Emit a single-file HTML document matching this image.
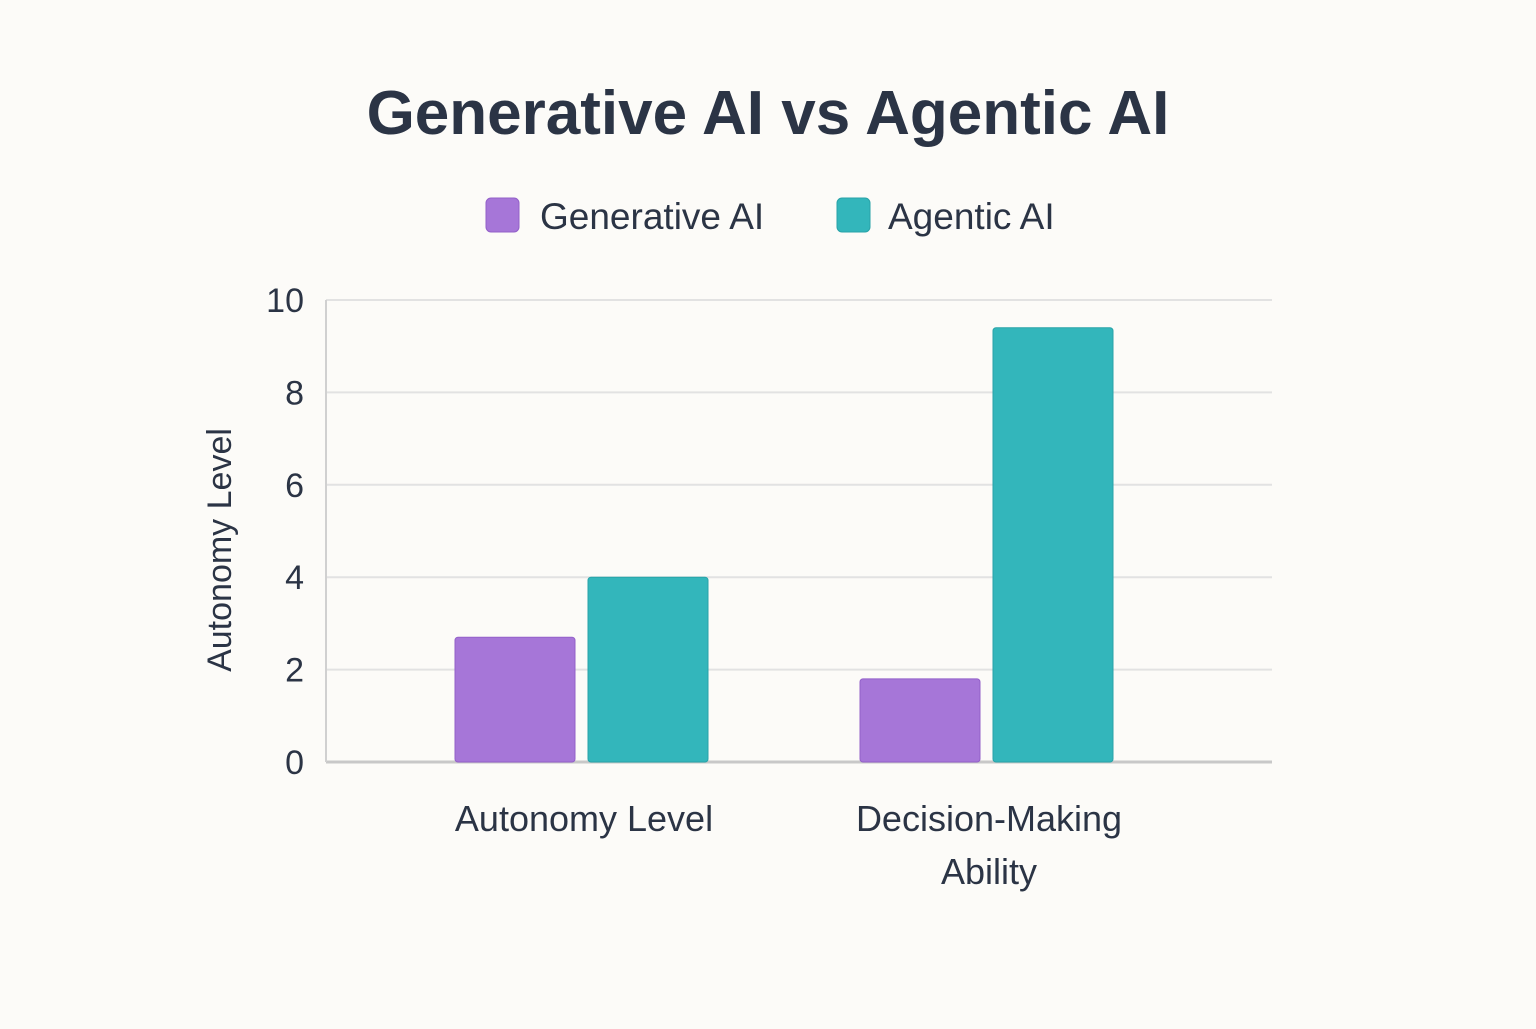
<!DOCTYPE html>
<html><head><meta charset="utf-8"><style>
body{margin:0;background:#fcfbf8;}
svg text{font-family:"Liberation Sans","DejaVu Sans",sans-serif;fill:#2b3445;}
</style></head><body>
<svg width="1536" height="1024" viewBox="0 0 1536 1024">
<rect width="1536" height="1024" fill="#fcfbf8"/>
<text x="768" y="134" text-anchor="middle" font-size="62" font-weight="bold">Generative AI vs Agentic AI</text>
<g>
<g><rect x="486" y="198" width="33" height="34" rx="5" fill="#a676d8" stroke="#9360c9"/><text x="540" y="229" font-size="37">Generative AI</text></g>
<g><rect x="837" y="198" width="33" height="34" rx="5" fill="#33b6bb" stroke="#28a3a8"/><text x="888" y="229" font-size="37">Agentic AI</text></g>
</g>
<text transform="translate(231,550) rotate(-90)" text-anchor="middle" font-size="34">Autonomy Level</text>
<g id="grid"></g><g id="bars"></g><g id="labels"></g>
</svg>
<script>
const categories=["Autonomy Level","Decision-Making|Ability"];
const generative=[2.7,1.8];
const agentic=[4.0,9.4];
const yTicks=[0,2,4,6,8,10];
const yScale=v=>762-v*46.2;
const xStart=378.5,band=405;
const ns="http://www.w3.org/2000/svg";
function mk(t,a,p){const e=document.createElementNS(ns,t);for(const k in a)e.setAttribute(k,a[k]);p.appendChild(e);return e;}
const grid=document.getElementById('grid'),bars=document.getElementById('bars'),labels=document.getElementById('labels');
yTicks.forEach(t=>{
 const y=yScale(t);
 const l=mk('line',{x1:326,x2:1272,y1:y,y2:y,stroke:t===0?'#c8c8c8':'#e2e2e2','stroke-width':t===0?3:2},grid);
 
 
 const tx=mk('text',{x:304,y:y+12,'text-anchor':'end','font-size':34},grid);
 tx.textContent=t;
 
 
});
mk('line',{x1:326,x2:326,y1:300,y2:762,stroke:'#d0d0d0','stroke-width':2},grid);
categories.forEach((c,i)=>{
 const cx=xStart+band*i+band/2;
 [[generative[i],'#a676d8','#9360c9',cx-126,'bar-generative-'+i],[agentic[i],'#33b6bb','#28a3a8',cx+7,'bar-agentic-'+i]].forEach(([v,f,s,x,n])=>{
  const r=mk('rect',{x:x,y:yScale(v),width:120,height:762-yScale(v),fill:f,stroke:s,rx:3},bars);
  
  
 });
 c.split('|').forEach((line,j)=>{
  const t=mk('text',{x:cx+3,y:831+j*53,'text-anchor':'middle','font-size':36},labels);
  t.textContent=line;
  
  
 });
});
</script>
</body></html>
